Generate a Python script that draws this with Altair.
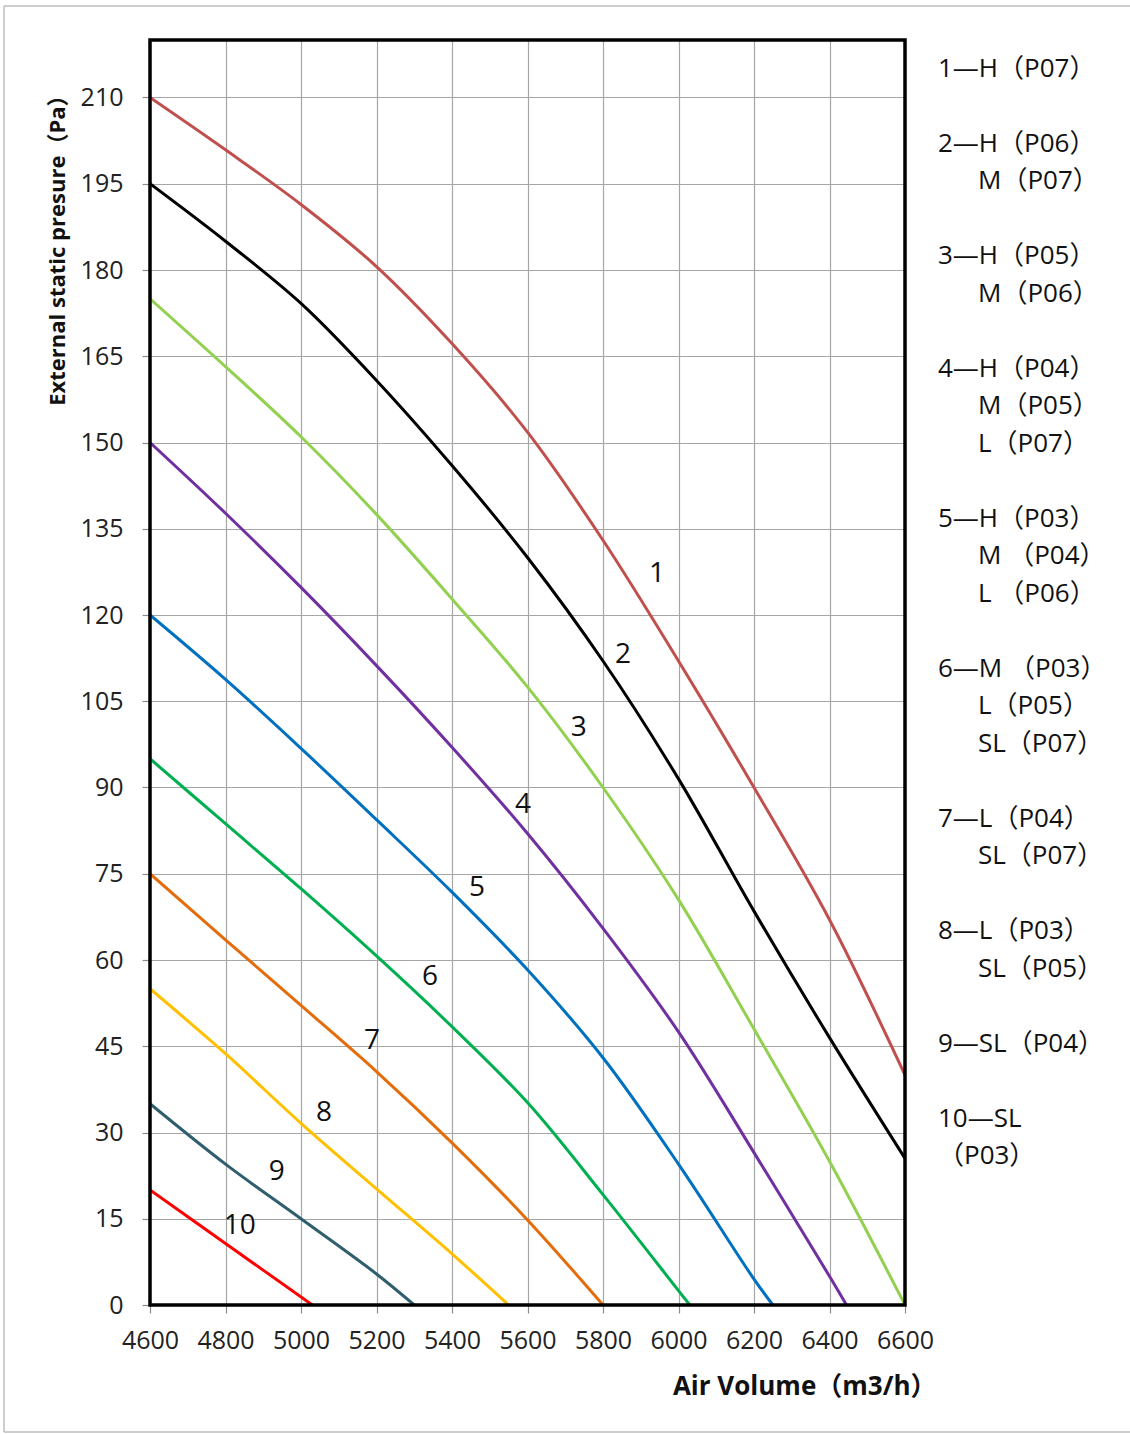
import altair as alt
import pandas as pd

# ---------------- data ----------------
AIR_VOLUME_TICKS = [4600, 4800, 5000, 5200, 5400, 5600, 5800, 6000, 6200, 6400, 6600]
PRESSURE_TICKS = [0, 15, 30, 45, 60, 75, 90, 105, 120, 135, 150, 165, 180, 195, 210]

CURVE_IDS = ["1", "2", "3", "4", "5", "6", "7", "8", "9", "10"]
CURVE_COLORS = ["#C0504D", "#000000", "#92D050", "#7030A0", "#0070C0",
                "#00B050", "#E46C0A", "#FFC000", "#2F5E6D", "#FF0000"]

C1_X = [4600, 4800, 5000, 5200, 5400, 5600, 5800, 6000, 6200, 6400, 6600]
C1_Y = [210, 200.9, 191.4, 180.6, 167.2, 151.8, 133, 112, 90, 67, 40]
C2_X = [4600, 4800, 5000, 5200, 5400, 5600, 5800, 6000, 6200, 6400, 6600]
C2_Y = [195, 185, 174.2, 160.8, 146, 130, 112, 91.5, 68.5, 46.5, 25.5]
C3_X = [4600, 4800, 5000, 5200, 5400, 5600, 5800, 6000, 6200, 6400, 6600]
C3_Y = [175, 163.2, 151, 137.5, 122.8, 107.5, 90, 70.5, 48, 25, 0]
C4_X = [4600, 4800, 5000, 5200, 5400, 5600, 5800, 6000, 6200, 6400, 6445]
C4_Y = [150, 137.7, 124.8, 111.2, 97, 82, 65.5, 47.5, 26.5, 5, 0]
C5_X = [4600, 4800, 5000, 5200, 5400, 5600, 5800, 6000, 6200, 6250]
C5_Y = [120, 108.8, 96.8, 84.4, 71.8, 58.3, 43, 24.5, 4.5, 0]
C6_X = [4600, 4800, 5000, 5200, 5400, 5600, 5800, 6000, 6030]
C6_Y = [95, 83.7, 72.4, 60.7, 48.4, 35.2, 19.2, 2.5, 0]
C7_X = [4600, 4800, 5000, 5200, 5400, 5600, 5800]
C7_Y = [75, 63.5, 52.1, 40.6, 28.2, 14.8, 0]
C8_X = [4600, 4800, 5000, 5200, 5400, 5550]
C8_Y = [55, 43.7, 31.6, 20.2, 8.9, 0]
C9_X = [4600, 4800, 5000, 5200, 5300]
C9_Y = [35, 24.5, 15, 5.4, 0]
C10_X = [4600, 4800, 5030]
C10_Y = [20, 10.7, 0]

LABEL_TEXT = ["1", "2", "3", "4", "5", "6", "7", "8", "9", "10"]
LABEL_X = [5943, 5853, 5736, 5588, 5466, 5342, 5188, 5061, 4936, 4838]
LABEL_Y = [127.2, 113, 100.3, 86.9, 72.5, 57, 46, 33.4, 23.1, 13.7]

LEGEND_ENTRIES = [
    ["1—H（P07）"],
    ["2—H（P06）", "M（P07）"],
    ["3—H（P05）", "M（P06）"],
    ["4—H（P04）", "M（P05）", "L（P07）"],
    ["5—H（P03）", "M （P04）", "L （P06）"],
    ["6—M （P03）", "L（P05）", "SL（P07）"],
    ["7—L（P04）", "SL（P07）"],
    ["8—L（P03）", "SL（P05）"],
    ["9—SL（P04）"],
    ["10—SL", "（P03）"],
]
LEGEND_CONT_INDENT = [True, True, True, True, True, True, True, True, True, False]

X_TITLE = "Air Volume（m3/h）"
Y_TITLE = "External static presure（Pa）"

# ---------------- build tables ----------------
xs = [C1_X, C2_X, C3_X, C4_X, C5_X, C6_X, C7_X, C8_X, C9_X, C10_X]
ys = [C1_Y, C2_Y, C3_Y, C4_Y, C5_Y, C6_Y, C7_Y, C8_Y, C9_Y, C10_Y]
rows = []
for cid, cx, cy in zip(CURVE_IDS, xs, ys):
    for i, (a, b) in enumerate(zip(cx, cy)):
        rows.append({"curve": cid, "air": a, "pressure": b, "order": i})
curves_df = pd.DataFrame(rows)
labels_df = pd.DataFrame({"label": LABEL_TEXT, "air": LABEL_X, "pressure": LABEL_Y})

leg_rows = []
r = 0
for k, (entry, indent) in enumerate(zip(LEGEND_ENTRIES, LEGEND_CONT_INDENT)):
    for j, line in enumerate(entry):
        leg_rows.append({"text": line, "row": r, "indent": 1 if (j > 0 and indent) else 0})
        r += 1
    r += 1  # blank line between groups
legend_df = pd.DataFrame(leg_rows)
n_rows = int(legend_df["row"].max())

one_df = pd.DataFrame({"k": [0]})

FONT = "Open Sans, Noto Sans CJK SC"
W, H = 755, 1265
LINE_H = 37.5

x_scale = alt.Scale(domain=[4600, 6600], nice=False, zero=False)
y_scale = alt.Scale(domain=[0, 220], nice=False)

x_axis = alt.Axis(values=AIR_VOLUME_TICKS, title=X_TITLE, format="d",
                  labelFontSize=25, labelFont=FONT, labelColor="#222222",
                  labelPadding=15, tickSize=8, tickColor="#8C8C8C", tickWidth=1.2,
                  grid=True, gridColor="#A6A6A6", gridWidth=1.2, domain=False,
                  titleFont=FONT, titleFontSize=26, titleFontWeight="bold", titleColor="#111111",
                  titleAnchor="end", titleAlign="right", titleBaseline="middle",
                  titleX=786, titleY=81, labelFlush=False, labelOverlap=False)
y_axis = alt.Axis(values=PRESSURE_TICKS, title=Y_TITLE, format="d",
                  labelFontSize=25, labelFont=FONT, labelColor="#222222",
                  labelPadding=19, tickSize=8, tickColor="#8C8C8C", tickWidth=1.2,
                  grid=True, gridColor="#A6A6A6", gridWidth=1.2, domain=False,
                  titleFont=FONT, titleFontSize=22, titleFontWeight="bold", titleColor="#111111",
                  titleAnchor="end", titleAlign="right", titleBaseline="middle", titleAngle=270,
                  titleX=-93, titleY=44, labelFlush=False, labelOverlap=False)

lines = alt.Chart(curves_df).mark_line(strokeWidth=3, interpolate="catmull-rom", clip=True).encode(
    x=alt.X("air:Q", scale=x_scale, axis=x_axis),
    y=alt.Y("pressure:Q", scale=y_scale, axis=y_axis),
    color=alt.Color("curve:N", scale=alt.Scale(domain=CURVE_IDS, range=CURVE_COLORS), legend=None),
    detail="curve:N",
    order="order:Q",
)

curve_labels = alt.Chart(labels_df).mark_text(
    font=FONT, fontSize=28, color="#111111", align="center", baseline="middle"
).encode(
    x=alt.X("air:Q", scale=x_scale, axis=None),
    y=alt.Y("pressure:Q", scale=y_scale, axis=None),
    text="label:N",
)

border = alt.Chart(one_df).mark_rect(filled=False, stroke="#000000", strokeWidth=3.5).encode(
    x=alt.value(0), x2=alt.value(W), y=alt.value(0), y2=alt.value(H)
)

# light outer frame (left, top and bottom edges, as in the cropped reference)
frame_style = dict(stroke="#BDBDBD", strokeWidth=1.5, clip=False)
frame_left = alt.Chart(one_df).mark_rule(**frame_style).encode(
    x=alt.value(-146), y=alt.value(-34), y2=alt.value(1392))
frame_top = alt.Chart(one_df).mark_rule(**frame_style).encode(
    x=alt.value(-146), x2=alt.value(1000), y=alt.value(-34))
frame_bottom = alt.Chart(one_df).mark_rule(**frame_style).encode(
    x=alt.value(-146), x2=alt.value(1000), y=alt.value(1392))

legend = alt.Chart(legend_df).mark_text(
    font=FONT, fontSize=26, color="#111111", align="left", baseline="middle"
).encode(
    x=alt.X("indent:Q", scale=alt.Scale(domain=[0, 1], range=[W + 33, W + 73]), axis=None),
    y=alt.Y("row:Q", scale=alt.Scale(domain=[0, n_rows], range=[28.5, 28.5 + LINE_H * n_rows]), axis=None),
    text="text:N",
)

chart = alt.layer(frame_left, frame_top, frame_bottom, lines, curve_labels, border, legend).resolve_scale(
    x="independent", y="independent"
).properties(
    width=W, height=H,
    autosize=alt.AutoSizeParams(type="none"),
    padding={"left": 150, "top": 40, "right": 225, "bottom": 129},
    background="white",
).configure_view(stroke=None)

chart.save("out.html", embed_options={"renderer": "svg", "actions": False})
